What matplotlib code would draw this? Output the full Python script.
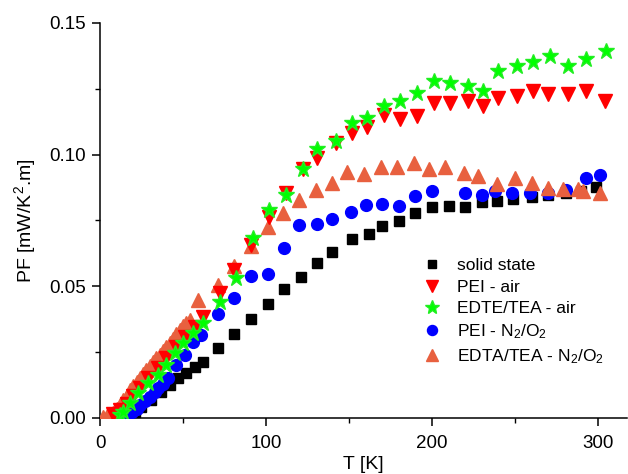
import matplotlib
matplotlib.use("Agg")
import matplotlib.pyplot as plt
from matplotlib.ticker import MultipleLocator, FormatStrFormatter

plt.rcParams['font.family'] = ['Liberation Sans', 'DejaVu Sans']
plt.rcParams['mathtext.fontset'] = 'custom'
plt.rcParams['mathtext.rm'] = 'Liberation Sans'
plt.rcParams['mathtext.it'] = 'Liberation Sans:italic'

# solid state
T_solid = [12, 16, 21, 25, 31, 37, 42, 47, 52, 57, 62, 71, 81, 91, 101, 111, 121, 131, 140, 152,
           162, 170, 180, 190, 200, 210, 220, 230, 239, 249, 260, 270, 281, 290, 299]
PF_solid = [0.0003, 0.001, 0.0023, 0.0042, 0.0068, 0.0099, 0.0125, 0.0152, 0.0171, 0.0194, 0.0213,
            0.0266, 0.0319, 0.0376, 0.0433, 0.049, 0.0536, 0.059, 0.063, 0.068, 0.070, 0.073,
            0.075, 0.078, 0.080, 0.0806, 0.080, 0.082, 0.0825, 0.0833, 0.084, 0.0848, 0.0856,
            0.0863, 0.0878]

# PEI - air
T_pei_air = [8, 12, 16, 20, 24, 29, 35, 40, 46, 51, 57, 62, 72, 81, 91, 102, 112, 122, 131,
             142, 152, 161, 171, 181, 191, 201, 211, 222, 231, 240, 251, 261, 270, 282, 293, 304]
PF_pei_air = [0.0015, 0.003, 0.0055, 0.0085, 0.0114, 0.0152, 0.019, 0.0228, 0.027, 0.0308, 0.0346,
              0.0384, 0.0475, 0.0563, 0.0658, 0.0764, 0.0856, 0.0947, 0.0989, 0.1046,
              0.1084, 0.1106, 0.1152, 0.1137, 0.1148, 0.1198, 0.1198, 0.1205, 0.1183, 0.1217,
              0.1224, 0.124, 0.1232, 0.1232, 0.1243, 0.1202]

# EDTE/TEA - air
T_edte_air = [12, 14, 18, 23, 29, 35, 40, 45, 50, 56, 62, 72, 82, 92, 102, 112, 122, 131, 142,
              152, 161, 171, 181, 191, 201, 211, 222, 231, 240, 251, 261, 271, 282, 293, 305]
PF_edte_air = [0.001, 0.0023, 0.0057, 0.0095, 0.0133, 0.0163, 0.0202, 0.0247, 0.0285, 0.0323,
               0.0361, 0.0441, 0.0532, 0.0684, 0.0791, 0.0848, 0.0947, 0.1023, 0.1053, 0.1122,
               0.1141, 0.1183, 0.1205, 0.1236, 0.1281, 0.1274, 0.1259, 0.1243, 0.1316, 0.1338,
               0.135, 0.1373, 0.1335, 0.1365, 0.1392]

# PEI - N2/O2
T_pei_n2 = [12, 14, 17, 19, 22, 24, 27, 30, 33, 35, 38, 41, 46, 51, 56, 61, 71, 81, 91, 101, 111,
            120, 131, 140, 151, 160, 170, 180, 190, 200, 220, 230, 238, 248, 259, 270, 281, 293, 301]
PF_pei_n2 = [0.0003, 0.0011, 0.0017, 0.0023, 0.0035, 0.0049, 0.0064, 0.008, 0.0097, 0.0114, 0.013,
             0.0152, 0.0202, 0.024, 0.0289, 0.0316, 0.0395, 0.0456, 0.054, 0.0548, 0.0646,
             0.0734, 0.0738, 0.0757, 0.0783, 0.081, 0.0814, 0.0806, 0.0844, 0.0863, 0.0856,
             0.0848, 0.0863, 0.0856, 0.0856, 0.0856, 0.0867, 0.0913, 0.0924]

# EDTA/TEA - N2/O2
T_edta_n2 = [2, 4, 6, 8, 10, 12, 14, 16, 18, 20, 22, 24, 26, 28, 30, 32, 34, 36, 38, 40, 42, 44,
             46, 48, 50, 52, 54, 59, 71, 81, 91, 101, 110, 120, 130, 140, 149, 159, 169, 179, 189,
             198, 208, 219, 228, 239, 250, 260, 270, 279, 288, 291, 301]
PF_edta_n2 = [0.0003, 0.0006, 0.0012, 0.002, 0.0035, 0.005, 0.0068, 0.0085, 0.0105, 0.0123, 0.0138,
              0.0153, 0.0168, 0.0183, 0.0198, 0.0212, 0.0226, 0.024, 0.0255, 0.027, 0.0285, 0.030,
              0.0318, 0.0335, 0.035, 0.0362, 0.0372, 0.0449, 0.0506, 0.0578, 0.0654, 0.0726,
              0.0779, 0.0829, 0.0867, 0.0894, 0.0935, 0.0928, 0.0954, 0.0954, 0.097, 0.0947,
              0.0954, 0.0932, 0.092, 0.089, 0.0913, 0.0894, 0.0875, 0.0871, 0.0871, 0.0863, 0.0856]

labels = ['solid state', 'PEI - air', 'EDTE/TEA - air', 'PEI - N$_2$/O$_2$',
          'EDTA/TEA - N$_2$/O$_2$']

fig = plt.figure(figsize=(6.28, 4.74), dpi=100)
ax = fig.add_axes([100 / 628, 56 / 474, 527 / 628, 395 / 474])

c_orange = '#E8603F'
h_black, = ax.plot(T_solid, PF_solid, 's', color='black', ms=7, ls='none', zorder=2)
h_blue, = ax.plot(T_pei_n2, PF_pei_n2, 'o', color='#0000FF', ms=8.5, mec='#0000FF', ls='none', zorder=3)
h_orange, = ax.plot(T_edta_n2, PF_edta_n2, '^', color=c_orange, ms=9.5, ls='none', zorder=4)
h_red, = ax.plot(T_pei_air, PF_pei_air, 'v', color='#FF0000', ms=9.5, ls='none', zorder=5)
h_green, = ax.plot(T_edte_air, PF_edte_air, '*', color='#00FF00', mec='#22EE22', ms=12, ls='none', zorder=6)

ax.set_xlim(0, 317.5)
ax.set_ylim(0, 0.15)
ax.spines['top'].set_visible(False)
ax.spines['right'].set_visible(False)
for s in ['left', 'bottom']:
    ax.spines[s].set_linewidth(1.1)
ax.xaxis.set_major_locator(MultipleLocator(100))
ax.xaxis.set_minor_locator(MultipleLocator(50))
ax.yaxis.set_major_locator(MultipleLocator(0.05))
ax.yaxis.set_minor_locator(MultipleLocator(0.025))
ax.yaxis.set_major_formatter(FormatStrFormatter('%.2f'))
ax.tick_params(which='major', direction='out', length=6, width=1.1, labelsize=13.5, pad=4)
ax.tick_params(axis='x', which='major', pad=6)
ax.tick_params(which='minor', direction='out', length=3.5, width=1.0)

ax.set_xlabel('T [K]', fontsize=14, labelpad=3)
ax.set_ylabel('PF [mW/K$^2$.m]', fontsize=14, labelpad=8)

ax.legend([h_black, h_red, h_green, h_blue, h_orange], labels, loc='upper left',
          bbox_to_anchor=(0.611, 0.405), frameon=False, fontsize=12.5, handlelength=1.2,
          handletextpad=0.8, labelspacing=0.36, borderpad=0, borderaxespad=0,
          markerscale=0.85)

fig.savefig('out.png', dpi=100)
